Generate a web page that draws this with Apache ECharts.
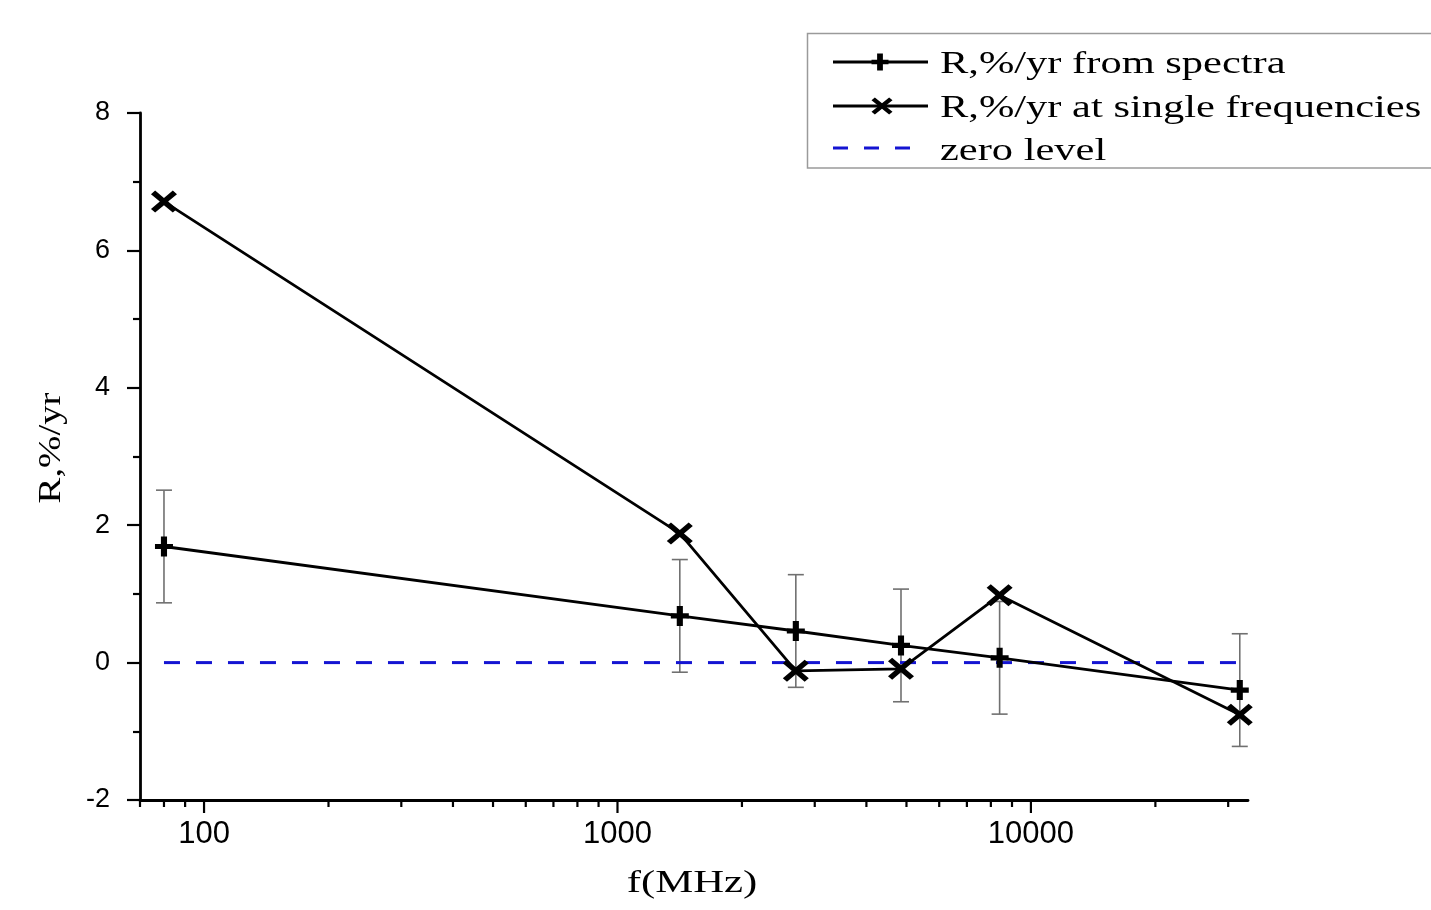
<!DOCTYPE html>
<html>
<head>
<meta charset="utf-8">
<title>R, %/yr versus frequency</title>
<script src="https://cdn.jsdelivr.net/npm/echarts@6/dist/echarts.min.js"></script>
<style>
  html, body { margin: 0; padding: 0; background: #ffffff; }
  #chart { width: 1431px; height: 910px; }
</style>
</head>
<body>
<div id="chart"></div>
<script>
// Observation frequencies, MHz
const freq = [80, 1415, 2700, 4850, 8400, 32000];
// Rate derived from spectra, %/yr, with its uncertainty
const spectraR = [1.69, 0.68, 0.46, 0.25, 0.07, -0.40];
const spectraErr = [0.82, 0.82, 0.82, 0.82, 0.82, 0.82];
// Rate measured at single frequencies, %/yr
const singleR = [6.71, 1.88, -0.12, -0.09, 0.98, -0.76];
// Zero reference line
const zeroFreq = [80, 32000];
const zeroLevel = [0, 0];
// Log-axis tick positions (MHz) and the labelled decades
const xTickValues = [70, 80, 90, 100, 200, 300, 400, 500, 600, 700, 800, 900,
  1000, 2000, 3000, 4000, 5000, 6000, 7000, 8000, 9000, 10000, 20000, 30000];
const xLabelValues = [100, 1000, 10000];
// Legend entries
const legendNames = ['R,%/yr from spectra', 'R,%/yr at single frequencies', 'zero level'];

const Y_MIN = -2, Y_MAX = 8;
const SERIF = '"Liberation Serif", "Times New Roman", serif';
const SANS = '"Liberation Sans", Arial, sans-serif';
const INK = '#000000';
const BLUE = '#1414d2';

// Marker outlines (unit box -1..1): a bold plus and a diagonal cross
const PLUS_PTS = [[-0.34, -1], [0.34, -1], [0.34, -0.26], [1, -0.26], [1, 0.26], [0.34, 0.26],
  [0.34, 1], [-0.34, 1], [-0.34, 0.26], [-1, 0.26], [-1, -0.26], [-0.34, -0.26]];
const CROSS_PTS = [[-1, -0.68], [-0.68, -1], [0, -0.32], [0.68, -1], [1, -0.68], [0.32, 0],
  [1, 0.68], [0.68, 1], [0, 0.32], [-0.68, 1], [-1, 0.68], [-0.32, 0]];

function toPath(pts) {
  return 'path://M' + pts.map(function (p) { return p[0] + ',' + p[1]; }).join(' L') + ' Z';
}
function placePts(pts, cx, cy, w, h) {
  return pts.map(function (p) { return [cx + p[0] * w / 2, cy + p[1] * h / 2]; });
}

const chart = echarts.init(document.getElementById('chart'), null, { renderer: 'canvas' });

function isLabelled(v) {
  return xLabelValues.some(function (d) { return Math.abs(v - d) / d < 1e-6; });
}

const option = {
  animation: false,
  backgroundColor: '#ffffff',
  grid: { left: 140, right: 183, top: 113, bottom: 110, containLabel: false },
  xAxis: {
    type: 'log',
    logBase: 10,
    min: 70,
    max: 33500,
    axisLine: { onZero: false, lineStyle: { color: INK, width: 2.8 } },
    axisTick: { show: false },
    minorTick: { show: false },
    splitLine: { show: false },
    axisLabel: {
      color: INK,
      fontFamily: SANS,
      fontSize: 31,
      margin: 19,
      showMinLabel: false,
      showMaxLabel: false,
      formatter: function (v) { return isLabelled(v) ? String(Math.round(v)) : ''; }
    }
  },
  yAxis: {
    type: 'value',
    min: Y_MIN,
    max: Y_MAX,
    interval: 2,
    axisLine: { onZero: false, lineStyle: { color: INK, width: 2.8 } },
    axisTick: { show: true, length: 13, lineStyle: { color: INK, width: 2.2 } },
    minorTick: { show: true, splitNumber: 2, length: 7, lineStyle: { color: INK, width: 2.2 } },
    splitLine: { show: false },
    axisLabel: { color: INK, fontFamily: SANS, fontSize: 27, margin: 30 }
  },
  series: [
    {
      // logarithmic tick marks along the frequency axis
      type: 'custom',
      silent: true,
      z: 5,
      data: xTickValues.map(function (v) { return [v, Y_MIN]; }),
      renderItem: function (params, api) {
        const v = api.value(0);
        const p = api.coord([v, Y_MIN]);
        const len = isLabelled(v) ? 13 : 7;
        return {
          type: 'line',
          shape: { x1: p[0], y1: p[1], x2: p[0], y2: p[1] + len },
          style: { stroke: INK, lineWidth: 2.2 }
        };
      }
    },
    {
      // error bars of the spectral estimate
      type: 'custom',
      silent: true,
      z: 1,
      data: freq.map(function (f, i) { return [f, spectraR[i], spectraErr[i]]; }),
      renderItem: function (params, api) {
        const f = api.value(0), r = api.value(1), e = api.value(2);
        const top = api.coord([f, r + e]);
        const bot = api.coord([f, r - e]);
        const cap = 8;
        const st = { stroke: '#707070', lineWidth: 1.6 };
        return {
          type: 'group',
          children: [
            { type: 'line', shape: { x1: top[0], y1: top[1], x2: bot[0], y2: bot[1] }, style: st },
            { type: 'line', shape: { x1: top[0] - cap, y1: top[1], x2: top[0] + cap, y2: top[1] }, style: st },
            { type: 'line', shape: { x1: bot[0] - cap, y1: bot[1], x2: bot[0] + cap, y2: bot[1] }, style: st }
          ]
        };
      }
    },
    {
      name: legendNames[2],
      type: 'line',
      z: 2,
      clip: false,
      symbol: 'none',
      data: zeroFreq.map(function (f, i) { return [f, zeroLevel[i]]; }),
      lineStyle: { color: BLUE, width: 3, type: [16, 16] }
    },
    {
      name: legendNames[0],
      type: 'line',
      z: 3,
      clip: false,
      data: freq.map(function (f, i) { return [f, spectraR[i]]; }),
      symbol: toPath(PLUS_PTS),
      symbolSize: [18, 20],
      itemStyle: { color: INK },
      lineStyle: { color: INK, width: 2.8 }
    },
    {
      name: legendNames[1],
      type: 'line',
      z: 3,
      clip: false,
      data: freq.map(function (f, i) { return [f, singleR[i]]; }),
      symbol: toPath(CROSS_PTS),
      symbolSize: [26, 22],
      itemStyle: { color: INK },
      lineStyle: { color: INK, width: 2.8 }
    }
  ],
  graphic: [
    // axis titles
    {
      type: 'text', x: 52, y: 448, rotation: Math.PI / 2, scaleX: 1.25,
      style: { text: 'R,%/yr', font: '31px ' + SERIF, fill: INK, align: 'center', verticalAlign: 'middle' }
    },
    {
      type: 'text', x: 692, y: 884, scaleX: 1.38,
      style: { text: 'f(MHz)', font: '31px ' + SERIF, fill: INK, align: 'center', verticalAlign: 'middle' }
    },
    // legend frame
    {
      type: 'rect', z: 10,
      shape: { x: 807.5, y: 33.5, width: 640, height: 134.5 },
      style: { fill: '#ffffff', stroke: '#9a9a9a', lineWidth: 1.5 }
    },
    // legend row 1
    { type: 'line', z: 11, shape: { x1: 833, y1: 62, x2: 928, y2: 62 }, style: { stroke: INK, lineWidth: 2.8 } },
    { type: 'polygon', z: 12, shape: { points: placePts(PLUS_PTS, 880, 62, 17, 17) }, style: { fill: INK } },
    {
      type: 'text', z: 12, x: 940, y: 65, scaleX: 1.37,
      style: { text: legendNames[0], font: '31px ' + SERIF, fill: INK, align: 'left', verticalAlign: 'middle' }
    },
    // legend row 2
    { type: 'line', z: 11, shape: { x1: 833, y1: 106, x2: 928, y2: 106 }, style: { stroke: INK, lineWidth: 2.8 } },
    { type: 'polygon', z: 12, shape: { points: placePts(CROSS_PTS, 882, 106, 21, 17) }, style: { fill: INK } },
    {
      type: 'text', z: 12, x: 940, y: 109, scaleX: 1.37,
      style: { text: legendNames[1], font: '31px ' + SERIF, fill: INK, align: 'left', verticalAlign: 'middle' }
    },
    // legend row 3
    {
      type: 'line', z: 11, shape: { x1: 833, y1: 148, x2: 911, y2: 148 },
      style: { stroke: BLUE, lineWidth: 3, lineDash: [15, 16] }
    },
    {
      type: 'text', z: 12, x: 940, y: 152, scaleX: 1.37,
      style: { text: legendNames[2], font: '31px ' + SERIF, fill: INK, align: 'left', verticalAlign: 'middle' }
    }
  ]
};

chart.setOption(option);
</script>
</body>
</html>
